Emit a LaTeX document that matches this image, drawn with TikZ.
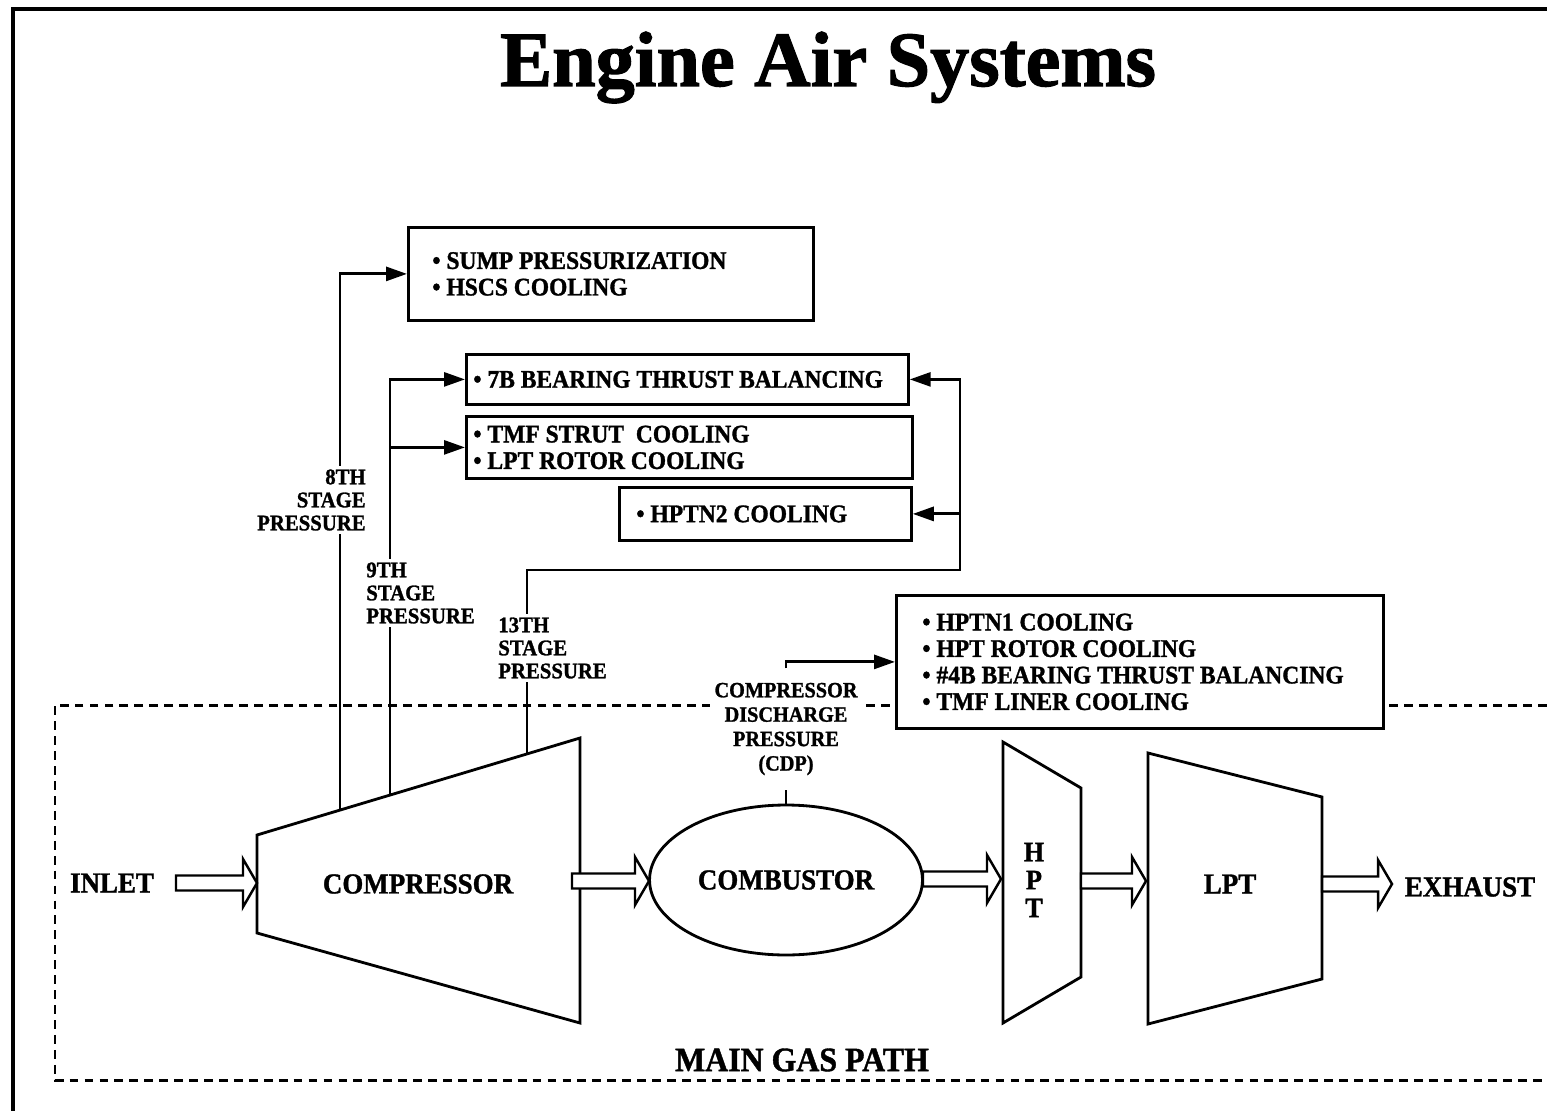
\documentclass[tikz,border=0pt]{standalone}
\usepackage{fontspec}
\setmainfont{Liberation Serif}[FakeStretch=0.93,BoldFeatures={FakeBold=1.2}]
\newfontfamily\titlefont{Liberation Serif}[BoldFeatures={FakeBold=1.5}]
\usetikzlibrary{arrows.meta,shapes.geometric}

\tikzset{
  box/.style={draw,fill=white,line width=1.6pt,inner sep=0pt,anchor=north west},
  boxtext/.style={align=left,inner sep=0pt,anchor=west,font=\bfseries\fontsize{14.4}{15.1}\selectfont},
  part/.style={line width=1.6pt},
  partname/.style={font=\bfseries\fontsize{16.5}{16}\selectfont},
  stagelabel/.style={fill=white,inner sep=0.06cm,font=\bfseries\fontsize{12.7}{13.1}\selectfont},
  cdplabel/.style={fill=white,align=center,inner xsep=0.1cm,inner ysep=0.28cm,font=\bfseries\fontsize{12.4}{13.9}\selectfont},
  flow/.style={->,line width=1.6pt},
  hollow/.style={line width=1.4pt,fill=white},
  gaspath/.style={line width=1.7pt,dash pattern=on 5pt off 3.5pt},
}

\begin{document}
\begin{tikzpicture}[x=0.02cm,y=-0.02cm,>={Triangle[length=0.42cm,width=0.28cm]}]
	\useasboundingbox (0,0) rectangle (1547,1111);
	\draw[line width=1.8pt] (13,1111) -- (13,9) -- (1547,9);
	\node[font=\titlefont\bfseries\fontsize{44.5}{48}\selectfont,anchor=base] (title) at (828,86) {Engine Air Systems};
	% main gas path
	\draw[gaspath] (1547,705) -- (55,705) -- (55,1080) -- (1547,1080);
	\node[font=\bfseries\fontsize{19.5}{20}\selectfont] (mgp) at (802,1060) {MAIN GAS PATH};
	\draw[part] (257,835) -- (580,738) -- (580,1023) -- (257,933) -- cycle;
	\node[partname] (comp) at (418,884) {COMPRESSOR};
	\node[part,draw,ellipse,minimum width=5.46cm,minimum height=3cm,partname] (comb) at (786,880) {COMBUSTOR};
	\draw[part] (1003,742) -- (1081,788) -- (1081,977) -- (1003,1023) -- cycle;
	\node[partname,align=center,font=\bfseries\fontsize{16}{15.9}\selectfont] (hpt) at (1034,880) {H\\P\\T};
	\draw[part] (1148,753) -- (1322,797) -- (1322,979) -- (1148,1024) -- cycle;
	\node[partname] (lpt) at (1230,884) {LPT};
	\node[partname] (inlet) at (112,883) {INLET};
	\node[partname] (exhaust) at (1470,887) {EXHAUST};
	% hollow arrows along the gas path
	\foreach \xs/\xt/\yc in {176/257/883, 572/649/881, 923/1001/879, 1081/1146/881, 1322/1392/884}
		\draw[hollow] (\xs,\yc-7.5) -- (\xt-14,\yc-7.5) -- (\xt-14,\yc-24) -- (\xt,\yc)
			-- (\xt-14,\yc+24) -- (\xt-14,\yc+7.5) -- (\xs,\yc+7.5) -- cycle;
	% air system boxes
	\node[box,minimum width=8.1cm,minimum height=1.86cm] (sump) at (407,226) {};
	\node[boxtext] (sumptxt) at ([xshift=0.5cm]sump.west) {• SUMP PRESSURIZATION\\• HSCS COOLING};
	\node[box,minimum width=8.84cm,minimum height=1cm] (bear7) at (465,353) {};
	\node[boxtext] (bear7txt) at ([xshift=0.16cm]bear7.west) {• 7B BEARING THRUST BALANCING};
	\node[box,minimum width=8.92cm,minimum height=1.24cm] (strut) at (465,415) {};
	\node[boxtext] (struttxt) at ([xshift=0.16cm]strut.west) {• TMF STRUT\ \ COOLING\\• LPT ROTOR COOLING};
	\node[box,minimum width=5.84cm,minimum height=1.06cm] (hptn2) at (618,486) {};
	\node[boxtext] (hptn2txt) at ([xshift=0.36cm]hptn2.west) {• HPTN2 COOLING};
	\node[box,minimum width=9.74cm,minimum height=2.66cm] (hptn1) at (895,594) {};
	\node[boxtext] (hptn1txt) at ([xshift=0.54cm]hptn1.west) {• HPTN1 COOLING\\• HPT ROTOR COOLING\\• \#4B BEARING THRUST BALANCING\\• TMF LINER COOLING};
	% bleed lines
	\coordinate (c8) at (340,810);
	\coordinate (c9) at (390,795);
	\coordinate (c13) at (527,754);
	\coordinate (j13) at (960,570);
	\draw[flow] (c8) |- (sump.west);
	\draw[flow] (c9) |- (bear7.west);
	\draw[flow] (c9 |- strut.west) -- (strut.west);
	\draw[flow] (c13) |- (j13) |- (bear7.east);
	\draw[flow] (j13 |- hptn2.east) -- (hptn2.east);
	\node[stagelabel,align=right,anchor=east] (s8) at (369,500) {8TH\\STAGE\\PRESSURE};
	\node[stagelabel,align=left,anchor=west] (s9) at (363,593) {9TH\\STAGE\\PRESSURE};
	\node[stagelabel,align=left,anchor=west] (s13) at (495,648) {13TH\\STAGE\\PRESSURE};
	\node[cdplabel] (cdp) at (786,729) {COMPRESSOR\\DISCHARGE\\PRESSURE\\(CDP)};
	\draw[line width=1.6pt] (comb.north) -- (cdp.south);
	\draw[flow] (cdp.north) |- (hptn1.west);
\end{tikzpicture}
\end{document}
